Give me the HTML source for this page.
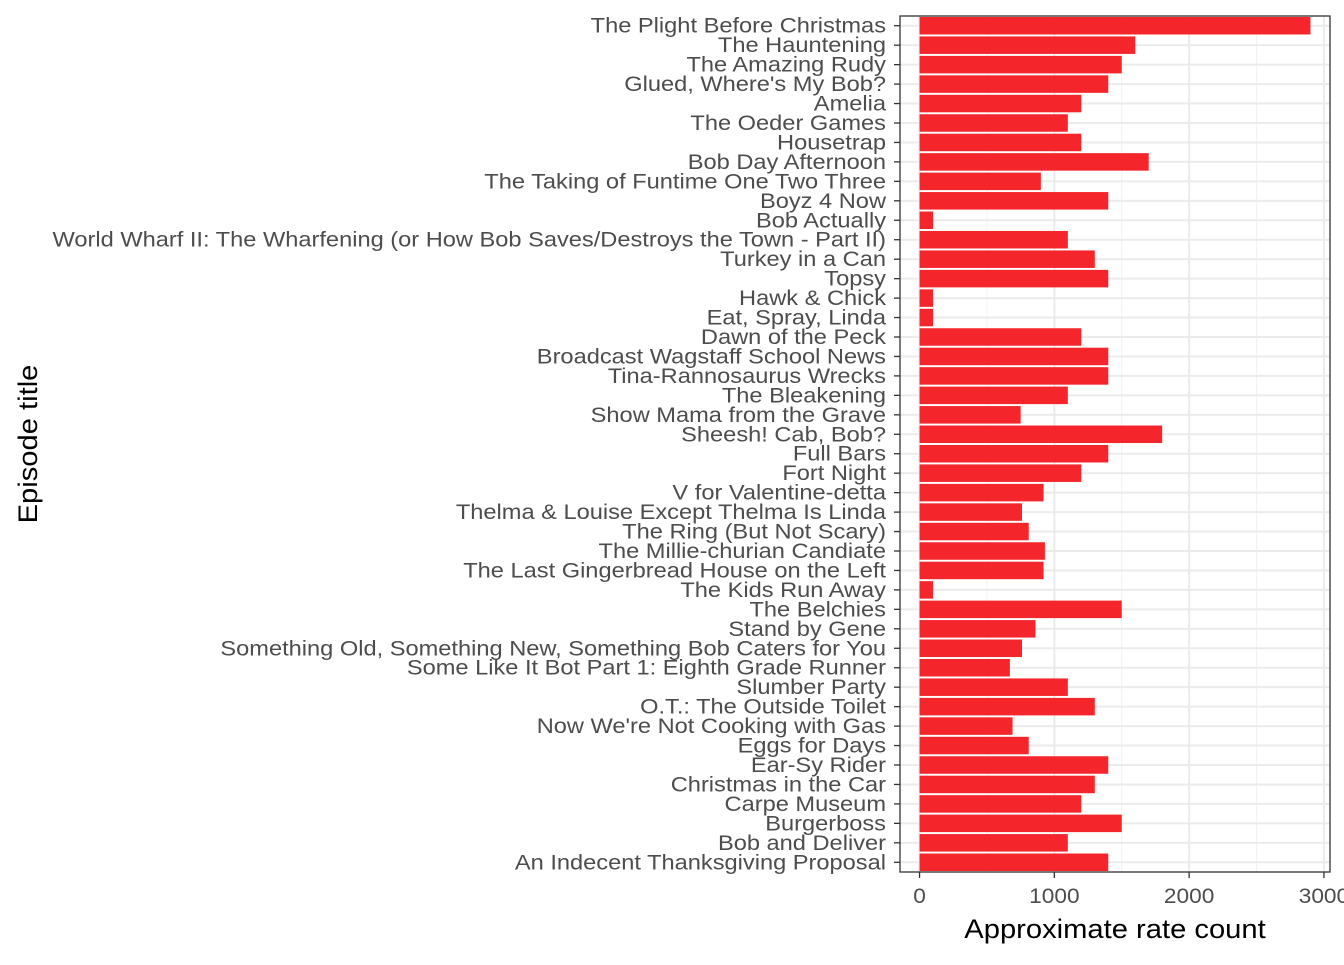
<!DOCTYPE html>
<html><head><meta charset="utf-8"><style>
body{margin:0;background:#fff;font-family:"Liberation Sans",sans-serif}
</style></head><body>
<svg id="chart" width="1344" height="960" xmlns="http://www.w3.org/2000/svg"></svg>
<script>
const categories=["The Plight Before Christmas","The Hauntening","The Amazing Rudy","Glued, Where's My Bob?","Amelia","The Oeder Games","Housetrap","Bob Day Afternoon","The Taking of Funtime One Two Three","Boyz 4 Now","Bob Actually","World Wharf II: The Wharfening (or How Bob Saves/Destroys the Town - Part II)","Turkey in a Can","Topsy","Hawk & Chick","Eat, Spray, Linda","Dawn of the Peck","Broadcast Wagstaff School News","Tina-Rannosaurus Wrecks","The Bleakening","Show Mama from the Grave","Sheesh! Cab, Bob?","Full Bars","Fort Night","V for Valentine-detta","Thelma & Louise Except Thelma Is Linda","The Ring (But Not Scary)","The Millie-churian Candiate","The Last Gingerbread House on the Left","The Kids Run Away","The Belchies","Stand by Gene","Something Old, Something New, Something Bob Caters for You","Some Like It Bot Part 1: Eighth Grade Runner","Slumber Party","O.T.: The Outside Toilet","Now We're Not Cooking with Gas","Eggs for Days","Ear-Sy Rider","Christmas in the Car","Carpe Museum","Burgerboss","Bob and Deliver","An Indecent Thanksgiving Proposal"];
const values=[2900,1600,1500,1400,1200,1100,1200,1700,900,1400,100,1100,1300,1400,100,100,1200,1400,1400,1100,750,1800,1400,1200,920,760,810,930,920,100,1500,860,760,670,1100,1300,690,810,1400,1300,1200,1500,1100,1400];
const xTicks=[0,1000,2000,3000];
const xMinor=[500,1500,2500];
const NS="http://www.w3.org/2000/svg";
const svg=document.getElementById('chart');
const L=900,R=1330,T=16,B=872;
const xMin=-145,xMax=3045;
const x=v=>L+(v-xMin)/(xMax-xMin)*(R-L);
const n=categories.length;
const step=(B-T)/n;
const y=i=>T+step*(i+0.5);
function mk(tag,attrs,parent){const e=document.createElementNS(NS,tag);for(const k in attrs)e.setAttribute(k,attrs[k]);(parent||svg).appendChild(e);return e;}
const grid=mk('g',{});


xMinor.forEach(v=>mk('line',{x1:x(v),x2:x(v),y1:T,y2:B,stroke:'#f2f2f2','stroke-width':1},grid));
xTicks.forEach(v=>mk('line',{x1:x(v),x2:x(v),y1:T,y2:B,stroke:'#ebebeb','stroke-width':2},grid));
categories.forEach((c,i)=>mk('line',{x1:L,x2:R,y1:y(i),y2:y(i),stroke:'#ebebeb','stroke-width':2},grid));
const bars=mk('g',{});


const bh=step*0.9;
values.forEach((v,i)=>{
  const r=mk('rect',{x:x(0),y:y(i)-bh/2,width:x(v)-x(0),height:bh,fill:'#f4262b'},bars);
  
  
});
const frame=mk('rect',{x:L,y:T,width:R-L,height:B-T,fill:'none',stroke:'#333','stroke-width':1.3});


const yax=mk('g',{});


categories.forEach((c,i)=>{
  mk('line',{x1:L-6,x2:L,y1:y(i),y2:y(i),stroke:'#333','stroke-width':1.3},yax);
  const t=mk('text',{x:0,y:0,'text-anchor':'end','font-size':21,fill:'#4d4d4d',transform:`translate(${L-14},${y(i)+7}) scale(1.125,1)`},yax);
  t.textContent=c;
  
  
});
const xax=mk('g',{});


xTicks.forEach(v=>{
  mk('line',{x1:x(v),x2:x(v),y1:B,y2:B+6,stroke:'#333','stroke-width':1.3},xax);
  const t=mk('text',{x:0,y:0,'text-anchor':'middle','font-size':21,fill:'#4d4d4d',transform:`translate(${x(v)},${B+31}) scale(1.08,1)`},xax);
  t.textContent=v;
  
  
});
const xt=mk('text',{x:0,y:0,'text-anchor':'middle','font-size':27,fill:'#000',transform:`translate(${(L+R)/2},938) scale(1.08,1)`});
xt.textContent='Approximate rate count';


const yt=mk('text',{x:0,y:0,'text-anchor':'middle','font-size':27,fill:'#000',transform:`translate(37,${(T+B)/2}) rotate(-90) scale(1.08,1)`});
yt.textContent='Episode title';


</script>
</body></html>
